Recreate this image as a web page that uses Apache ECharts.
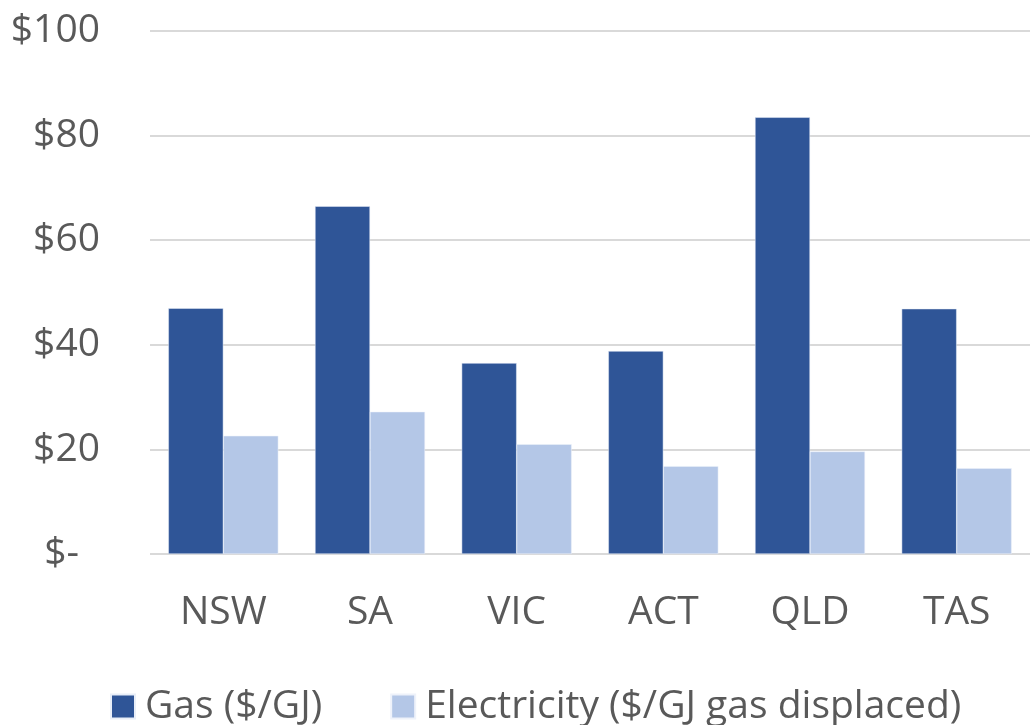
<!DOCTYPE html>
<html>
<head>
<meta charset="utf-8">
<script src="https://cdn.jsdelivr.net/npm/echarts@6/dist/echarts.min.js"></script>
<style>
  html, body { margin: 0; padding: 0; background: #fff; }
  #chart { width: 1030px; height: 725px; }
</style>
</head>
<body>
<div id="chart"></div>
<script>
const states = ['NSW', 'SA', 'VIC', 'ACT', 'QLD', 'TAS'];
const gas = [47.0, 66.5, 36.5, 38.8, 83.5, 46.9];
const electricity = [22.6, 27.2, 21.0, 16.8, 19.6, 16.4];
const seriesNames = ['Gas ($/GJ)', 'Electricity ($/GJ gas displaced)'];

const textColor = '#595959';
const font = '"Open Sans", "Noto Sans", sans-serif';
const fs = 39;

const myChart = echarts.init(document.getElementById('chart'));
const option = {
  animation: false,
  backgroundColor: '#fff',
  textStyle: { fontFamily: font },
  grid: { left: 150, right: 0, top: 31, bottom: 171 },
  legend: {
    top: 682,
    left: 105,
    itemWidth: 24,
    itemHeight: 24,
    itemGap: 68,
    icon: 'rect',
    textStyle: { color: textColor, fontSize: fs, fontFamily: font, padding: [0, 0, 0, 5] },
    data: seriesNames
  },
  xAxis: {
    type: 'category',
    data: states,
    axisLine: { show: false },
    axisTick: { show: false },
    axisLabel: { color: textColor, fontSize: fs, margin: 39, fontFamily: font }
  },
  yAxis: {
    type: 'value',
    min: 0,
    max: 100,
    interval: 20,
    axisLine: { show: false },
    axisTick: { show: false },
    splitLine: { lineStyle: { color: '#d9d9d9', width: 2 } },
    axisLabel: {
      color: textColor,
      fontSize: fs,
      margin: 50,
      fontFamily: font,
      formatter: function (v) { return v === 0 ? '{z|$-}' : '$' + v; },
      rich: { z: { color: textColor, fontSize: fs, fontFamily: font, padding: [0, 21, 0, 0] } }
    }
  },
  series: [
    {
      name: seriesNames[0],
      type: 'bar',
      data: gas,
      barCategoryGap: '25%',
      barGap: '0%',
      itemStyle: { color: '#2F5597', borderColor: '#e8eef8', borderWidth: 0.5 }
    },
    {
      name: seriesNames[1],
      type: 'bar',
      data: electricity,
      itemStyle: { color: '#B4C7E7', borderColor: '#eef2fa', borderWidth: 0.5 }
    }
  ]
};
myChart.setOption(option);
</script>
</body>
</html>
